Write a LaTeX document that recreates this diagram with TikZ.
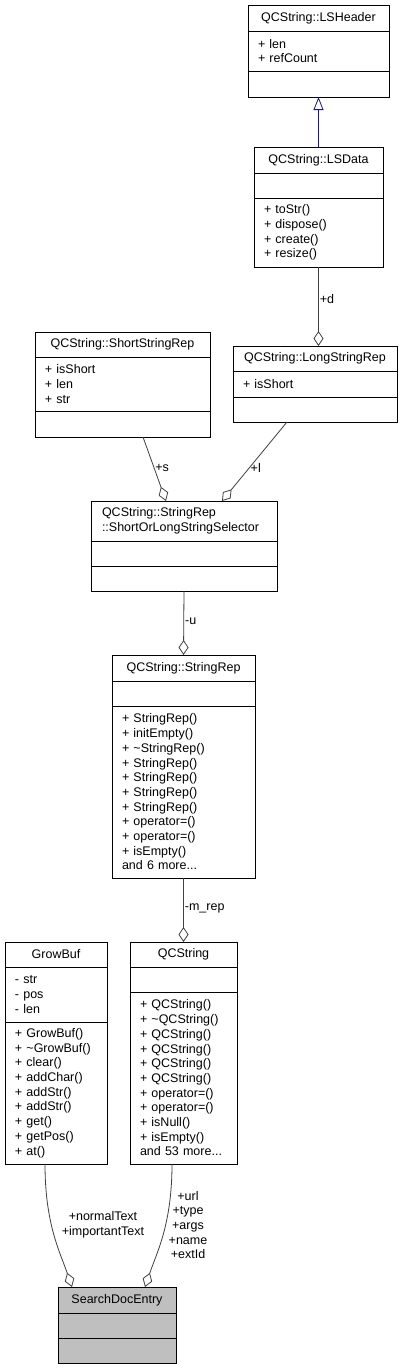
\documentclass[tikz,border=0pt]{standalone}
\usepackage{fontspec}
\setmainfont{Liberation Sans}
\usetikzlibrary{arrows.meta,positioning}
\definecolor{edgegray}{HTML}{404040}
\definecolor{inhblue}{HTML}{191970}
\definecolor{curfill}{HTML}{BFBFBF}
\tikzset{
  part/.style={draw=black, line width=0.8pt, fill=white, inner xsep=10pt, inner ysep=0pt,
    outer sep=0pt, anchor=north west, font=\fontsize{12.5}{14.7}\selectfont},
  hdr/.style={part, align=center},
  mem/.style={part, align=left},
  agg/.style={draw=edgegray, line width=0.8pt, -{Diamond[fill=white, length=15pt, width=10pt]}},
  inh/.style={draw=inhblue, line width=0.8pt, -{Triangle[open, length=13pt, width=10pt]}},
  lbl/.style={font=\fontsize{12.5}{14.7}\selectfont, inner sep=1pt, align=center}
}

\begin{document}
\begin{tikzpicture}[x=1pt,y=1pt]
\useasboundingbox[fill=white] (0,0) rectangle (409,-1369);

% QCString::LSHeader
\node[hdr, text width=121pt, minimum height=26pt] (lsh) at (248,-5) {QCString::LSHeader};
\node[mem, text width=121pt, minimum height=40pt] (lsh-att) at (lsh.south west) {+ len\\+ refCount};
\node[mem, text width=121pt, minimum height=26pt] (lsh-met) at (lsh-att.south west) {};

% QCString::LSData
\node[hdr, text width=109pt, minimum height=26pt] (lsd) at (254,-147) {QCString::LSData};
\node[mem, text width=109pt, minimum height=25pt] (lsd-att) at (lsd.south west) {};
\node[mem, text width=109pt, minimum height=69pt] (lsd-met) at (lsd-att.south west)
  {+ toStr()\\+ dispose()\\+ create()\\+ resize()};

% QCString::ShortStringRep
\node[hdr, text width=155pt, minimum height=25pt] (ssr) at (35,-332) {QCString::ShortStringRep};
\node[mem, text width=155pt, minimum height=54pt] (ssr-att) at (ssr.south west) {+ isShort\\+ len\\+ str};
\node[mem, text width=155pt, minimum height=26pt] (ssr-met) at (ssr-att.south west) {};

% QCString::LongStringRep
\node[hdr, text width=144pt, minimum height=25pt] (lsr) at (233,-346) {QCString::LongStringRep};
\node[mem, text width=144pt, minimum height=26pt] (lsr-att) at (lsr.south west) {+ isShort};
\node[mem, text width=144pt, minimum height=25pt] (lsr-met) at (lsr-att.south west) {};

% QCString::StringRep::ShortOrLongStringSelector
\node[mem, text width=164pt, inner xsep=11pt, minimum height=40pt] (sel) at (91,-501)
  {QCString::StringRep\\::ShortOrLongStringSelector};
\node[mem, text width=166pt, minimum height=25pt] (sel-att) at (sel.south west) {};
\node[mem, text width=166pt, minimum height=25pt] (sel-met) at (sel-att.south west) {};

% QCString::StringRep
\node[hdr, text width=123pt, minimum height=26pt] (srep) at (112,-655) {QCString::StringRep};
\node[mem, text width=123pt, minimum height=25pt] (srep-att) at (srep.south west) {};
\node[mem, text width=123pt, minimum height=172pt] (srep-met) at (srep-att.south west)
  {+ StringRep()\\+ initEmpty()\\+ \textasciitilde StringRep()\\+ StringRep()\\+ StringRep()\\
   + StringRep()\\+ StringRep()\\+ operator=()\\+ operator=()\\+ isEmpty()\\and 6 more...};

% GrowBuf
\node[hdr, text width=82pt, minimum height=25pt] (gb) at (5,-942) {GrowBuf};
\node[mem, text width=82pt, minimum height=55pt] (gb-att) at (gb.south west) {- str\\- pos\\- len};
\node[mem, text width=82pt, minimum height=142pt] (gb-met) at (gb-att.south west)
  {+ GrowBuf()\\+ \textasciitilde GrowBuf()\\+ clear()\\+ addChar()\\+ addStr()\\+ addStr()\\
   + get()\\+ getPos()\\+ at()};

% QCString
\node[hdr, text width=87pt, minimum height=25pt] (qcs) at (130,-942) {QCString};
\node[mem, text width=87pt, minimum height=25pt] (qcs-att) at (qcs.south west) {};
\node[mem, text width=87pt, minimum height=172pt] (qcs-met) at (qcs-att.south west)
  {+ QCString()\\+ \textasciitilde QCString()\\+ QCString()\\+ QCString()\\+ QCString()\\
   + QCString()\\+ operator=()\\+ operator=()\\+ isNull()\\+ isEmpty()\\and 53 more...};

% SearchDocEntry
\node[hdr, fill=curfill, text width=98pt, minimum height=26pt] (sde) at (58,-1287) {SearchDocEntry};
\node[mem, fill=curfill, text width=98pt, minimum height=25pt] (sde-att) at (sde.south west) {};
\node[mem, fill=curfill, text width=98pt, minimum height=25pt] (sde-met) at (sde-att.south west) {};

% relations
\draw[inh] (lsd.north) -- (lsh-met.south);
\draw[agg] (lsd-met.south) -- node[lbl, right, pos=0.4] (l-d) {+d} (lsd-met.south |- lsr.north);
\draw[agg] ([xshift=20.5pt]ssr-met.south) -- node[lbl, right, pos=0.48] (l-s) {+s} ([xshift=-18pt]sel.north);
\draw[agg] ([xshift=-28pt]lsr-met.south) -- node[lbl, right, pos=0.58] (l-l) {+l} ([xshift=38pt]sel.north);
\draw[agg] (sel-met.south) -- node[lbl, right, pos=0.48] (l-u) {-u} (srep.north);
\draw[agg] (srep-met.south) -- node[lbl, right, pos=0.48] (l-rep) {-m\_rep} (qcs.north);
\draw[agg] ([xshift=-11pt]gb-met.south) .. controls +(0,-60) and +(-12,35) .. ([xshift=-45pt]sde.north);
\draw[agg] ([xshift=-11.5pt]qcs-met.south) .. controls +(0,-60) and +(12,35) .. ([xshift=28pt]sde.north);
\node[lbl] (l-gb) at (103,-1225) {+normalText\\+importantText};
\node[lbl] (l-qcs) at (188,-1225) {+url\\+type\\+args\\+name\\+extId};
\end{tikzpicture}
\end{document}
